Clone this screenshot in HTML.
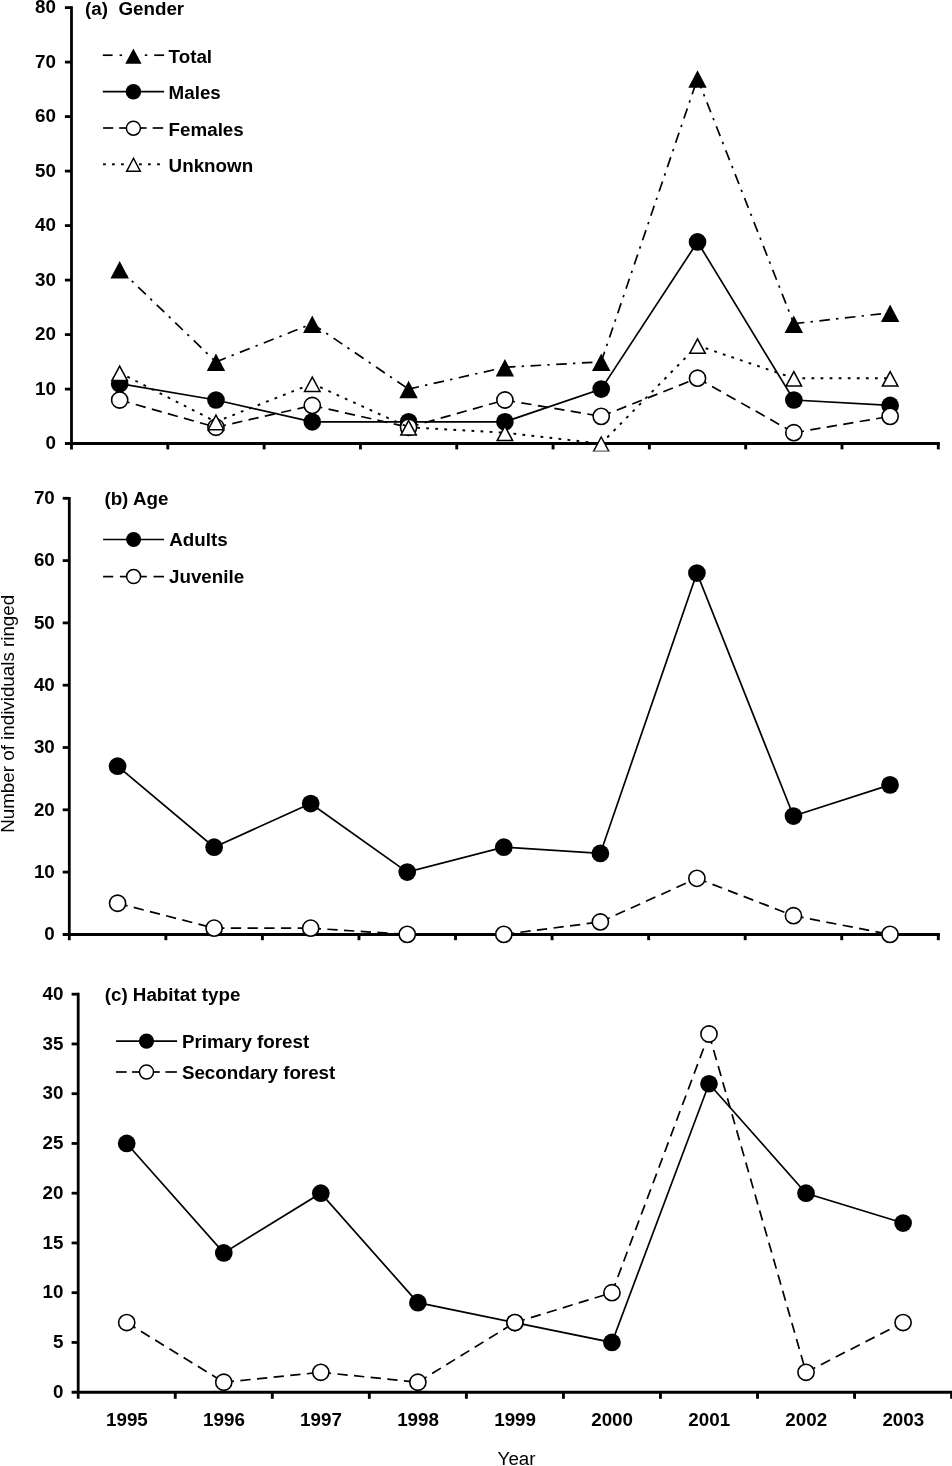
<!DOCTYPE html>
<html><head><meta charset="utf-8"><title>Number of individuals ringed</title>
<style>
html,body{margin:0;padding:0;background:#fff;}
svg{display:block;will-change:transform}
text{font-family:"Liberation Sans",sans-serif;font-size:18.8px;fill:#000}
</style></head><body>
<svg width="952" height="1466" viewBox="0 0 952 1466">
<rect width="952" height="1466" fill="#fff"/>
<g id="panel-a">
<line x1="71.5" y1="6.2" x2="71.5" y2="449.4" stroke="#000" stroke-width="2.8"/>
<line x1="64.9" y1="443.6" x2="939.9" y2="443.6" stroke="#000" stroke-width="3.0"/>
<text x="56" y="449.3" text-anchor="end" font-weight="bold">0</text>
<line x1="64.9" y1="389.1" x2="71.5" y2="389.1" stroke="#000" stroke-width="2.8"/>
<text x="56" y="394.8" text-anchor="end" font-weight="bold">10</text>
<line x1="64.9" y1="334.6" x2="71.5" y2="334.6" stroke="#000" stroke-width="2.8"/>
<text x="56" y="340.3" text-anchor="end" font-weight="bold">20</text>
<line x1="64.9" y1="280.1" x2="71.5" y2="280.1" stroke="#000" stroke-width="2.8"/>
<text x="56" y="285.8" text-anchor="end" font-weight="bold">30</text>
<line x1="64.9" y1="225.6" x2="71.5" y2="225.6" stroke="#000" stroke-width="2.8"/>
<text x="56" y="231.3" text-anchor="end" font-weight="bold">40</text>
<line x1="64.9" y1="171.1" x2="71.5" y2="171.1" stroke="#000" stroke-width="2.8"/>
<text x="56" y="176.8" text-anchor="end" font-weight="bold">50</text>
<line x1="64.9" y1="116.6" x2="71.5" y2="116.6" stroke="#000" stroke-width="2.8"/>
<text x="56" y="122.3" text-anchor="end" font-weight="bold">60</text>
<line x1="64.9" y1="62.1" x2="71.5" y2="62.1" stroke="#000" stroke-width="2.8"/>
<text x="56" y="67.8" text-anchor="end" font-weight="bold">70</text>
<line x1="64.9" y1="7.6" x2="71.5" y2="7.6" stroke="#000" stroke-width="2.8"/>
<text x="56" y="13.3" text-anchor="end" font-weight="bold">80</text>
<line x1="167.81" y1="443.6" x2="167.81" y2="449.4" stroke="#000" stroke-width="2.9"/>
<line x1="264.12" y1="443.6" x2="264.12" y2="449.4" stroke="#000" stroke-width="2.9"/>
<line x1="360.43" y1="443.6" x2="360.43" y2="449.4" stroke="#000" stroke-width="2.9"/>
<line x1="456.74" y1="443.6" x2="456.74" y2="449.4" stroke="#000" stroke-width="2.9"/>
<line x1="553.06" y1="443.6" x2="553.06" y2="449.4" stroke="#000" stroke-width="2.9"/>
<line x1="649.37" y1="443.6" x2="649.37" y2="449.4" stroke="#000" stroke-width="2.9"/>
<line x1="745.68" y1="443.6" x2="745.68" y2="449.4" stroke="#000" stroke-width="2.9"/>
<line x1="841.99" y1="443.6" x2="841.99" y2="449.4" stroke="#000" stroke-width="2.9"/>
<line x1="938.3" y1="443.6" x2="938.3" y2="449.4" stroke="#000" stroke-width="2.9"/>
<text x="85" y="14.9" text-anchor="start" font-weight="bold">(a)&#160;&#160;Gender</text>
<g fill="none" stroke="#000" stroke-width="1.7" stroke-dasharray="10.6 6.2 2.4 6.5" stroke-dashoffset="0">
<line x1="119.66" y1="269.2" x2="215.97" y2="361.85"/>
<line x1="215.97" y1="361.85" x2="312.28" y2="323.7"/>
<line x1="312.28" y1="323.7" x2="408.59" y2="389.1"/>
<line x1="408.59" y1="389.1" x2="504.9" y2="367.3"/>
<line x1="504.9" y1="367.3" x2="601.21" y2="361.85"/>
<line x1="601.21" y1="361.85" x2="697.52" y2="78.45"/>
<line x1="697.52" y1="78.45" x2="793.83" y2="323.7"/>
<line x1="793.83" y1="323.7" x2="890.14" y2="312.8"/>
</g>
<polygon points="119.66,260.9 110.46,278.4 128.86,278.4" fill="#000"/>
<polygon points="215.97,353.55 206.77,371.05 225.17,371.05" fill="#000"/>
<polygon points="312.28,315.4 303.08,332.9 321.48,332.9" fill="#000"/>
<polygon points="408.59,380.8 399.39,398.3 417.79,398.3" fill="#000"/>
<polygon points="504.9,359 495.7,376.5 514.1,376.5" fill="#000"/>
<polygon points="601.21,353.55 592.01,371.05 610.41,371.05" fill="#000"/>
<polygon points="697.52,70.15 688.32,87.65 706.72,87.65" fill="#000"/>
<polygon points="793.83,315.4 784.63,332.9 803.03,332.9" fill="#000"/>
<polygon points="890.14,304.5 880.94,322 899.34,322" fill="#000"/>
<polyline points="119.66,383.65 215.97,400 312.28,421.8 408.59,421.8 504.9,421.8 601.21,389.1 697.52,241.95 793.83,400 890.14,405.45" fill="none" stroke="#000" stroke-width="1.7"/>
<circle cx="119.66" cy="383.65" r="8.85" fill="#000"/>
<circle cx="215.97" cy="400" r="8.85" fill="#000"/>
<circle cx="312.28" cy="421.8" r="8.85" fill="#000"/>
<circle cx="408.59" cy="421.8" r="8.85" fill="#000"/>
<circle cx="504.9" cy="421.8" r="8.85" fill="#000"/>
<circle cx="601.21" cy="389.1" r="8.85" fill="#000"/>
<circle cx="697.52" cy="241.95" r="8.85" fill="#000"/>
<circle cx="793.83" cy="400" r="8.85" fill="#000"/>
<circle cx="890.14" cy="405.45" r="8.85" fill="#000"/>
<g fill="none" stroke="#000" stroke-width="1.7" stroke-dasharray="10.3 6.4" stroke-dashoffset="0">
<line x1="119.66" y1="400" x2="215.97" y2="427.25"/>
<line x1="215.97" y1="427.25" x2="312.28" y2="405.45"/>
<line x1="312.28" y1="405.45" x2="408.59" y2="427.25"/>
<line x1="408.59" y1="427.25" x2="504.9" y2="400"/>
<line x1="504.9" y1="400" x2="601.21" y2="416.35"/>
<line x1="601.21" y1="416.35" x2="697.52" y2="378.2"/>
<line x1="697.52" y1="378.2" x2="793.83" y2="432.7"/>
<line x1="793.83" y1="432.7" x2="890.14" y2="416.35"/>
</g>
<circle cx="119.66" cy="400" r="8.1" fill="#fff" stroke="#000" stroke-width="1.6"/>
<circle cx="215.97" cy="427.25" r="8.1" fill="#fff" stroke="#000" stroke-width="1.6"/>
<circle cx="312.28" cy="405.45" r="8.1" fill="#fff" stroke="#000" stroke-width="1.6"/>
<circle cx="408.59" cy="427.25" r="8.1" fill="#fff" stroke="#000" stroke-width="1.6"/>
<circle cx="504.9" cy="400" r="8.1" fill="#fff" stroke="#000" stroke-width="1.6"/>
<circle cx="601.21" cy="416.35" r="8.1" fill="#fff" stroke="#000" stroke-width="1.6"/>
<circle cx="697.52" cy="378.2" r="8.1" fill="#fff" stroke="#000" stroke-width="1.6"/>
<circle cx="793.83" cy="432.7" r="8.1" fill="#fff" stroke="#000" stroke-width="1.6"/>
<circle cx="890.14" cy="416.35" r="8.1" fill="#fff" stroke="#000" stroke-width="1.6"/>
<g fill="none" stroke="#000" stroke-width="1.9" stroke-dasharray="2.8 6.27" stroke-dashoffset="0.5">
<line x1="119.66" y1="372.75" x2="215.97" y2="421.8"/>
<line x1="215.97" y1="421.8" x2="312.28" y2="383.65"/>
<line x1="312.28" y1="383.65" x2="408.59" y2="427.25"/>
<line x1="408.59" y1="427.25" x2="504.9" y2="432.7"/>
<line x1="504.9" y1="432.7" x2="601.21" y2="443.6"/>
<line x1="601.21" y1="443.6" x2="697.52" y2="345.5"/>
<line x1="697.52" y1="345.5" x2="793.83" y2="378.2"/>
<line x1="793.83" y1="378.2" x2="890.14" y2="378.2"/>
</g>
<polygon points="119.66,366.15 111.91,380.6 127.41,380.6" fill="#fff" stroke="#000" stroke-width="1.5" stroke-linejoin="miter"/>
<polygon points="215.97,415.2 208.22,429.65 223.72,429.65" fill="#fff" stroke="#000" stroke-width="1.5" stroke-linejoin="miter"/>
<polygon points="312.28,377.05 304.53,391.5 320.03,391.5" fill="#fff" stroke="#000" stroke-width="1.5" stroke-linejoin="miter"/>
<polygon points="408.59,420.65 400.84,435.1 416.34,435.1" fill="#fff" stroke="#000" stroke-width="1.5" stroke-linejoin="miter"/>
<polygon points="504.9,426.1 497.15,440.55 512.65,440.55" fill="#fff" stroke="#000" stroke-width="1.5" stroke-linejoin="miter"/>
<polygon points="601.21,437 593.46,451.45 608.96,451.45" fill="#fff" stroke="#000" stroke-width="1.5" stroke-linejoin="miter"/>
<polygon points="697.52,338.9 689.77,353.35 705.27,353.35" fill="#fff" stroke="#000" stroke-width="1.5" stroke-linejoin="miter"/>
<polygon points="793.83,371.6 786.08,386.05 801.58,386.05" fill="#fff" stroke="#000" stroke-width="1.5" stroke-linejoin="miter"/>
<polygon points="890.14,371.6 882.39,386.05 897.89,386.05" fill="#fff" stroke="#000" stroke-width="1.5" stroke-linejoin="miter"/>
<rect x="588" y="451.5" width="28" height="3" fill="#fff"/>
<line x1="592.3" y1="451.2" x2="610.3" y2="451.2" stroke="#999" stroke-width="0.8"/>
<line x1="102.8" y1="55.2" x2="112.6" y2="55.2" stroke="#000" stroke-width="1.7"/>
<line x1="119.6" y1="55.2" x2="122.1" y2="55.2" stroke="#000" stroke-width="1.7"/>
<line x1="144.8" y1="55.2" x2="147.3" y2="55.2" stroke="#000" stroke-width="1.7"/>
<line x1="154.2" y1="55.2" x2="164.1" y2="55.2" stroke="#000" stroke-width="1.7"/>
<polygon points="133.4,48.6 125.25,63.7 141.55,63.7" fill="#000"/>
<text x="168.6" y="62.7" text-anchor="start" font-weight="bold">Total</text>
<line x1="102.8" y1="91.7" x2="164.1" y2="91.7" stroke="#000" stroke-width="1.7"/>
<circle cx="133.4" cy="91.7" r="7.7" fill="#000"/>
<text x="168.6" y="99.2" text-anchor="start" font-weight="bold">Males</text>
<line x1="103.1" y1="128" x2="113.3" y2="128" stroke="#000" stroke-width="1.7"/>
<line x1="119.2" y1="128" x2="127" y2="128" stroke="#000" stroke-width="1.7"/>
<line x1="140" y1="128" x2="146.5" y2="128" stroke="#000" stroke-width="1.7"/>
<line x1="152.7" y1="128" x2="163.2" y2="128" stroke="#000" stroke-width="1.7"/>
<circle cx="133.4" cy="128.2" r="7" fill="#fff" stroke="#000" stroke-width="1.5"/>
<text x="168.6" y="135.5" text-anchor="start" font-weight="bold">Females</text>
<line x1="103" y1="164.3" x2="105.8" y2="164.3" stroke="#000" stroke-width="1.9"/>
<line x1="112" y1="164.3" x2="114.8" y2="164.3" stroke="#000" stroke-width="1.9"/>
<line x1="121" y1="164.3" x2="123.8" y2="164.3" stroke="#000" stroke-width="1.9"/>
<line x1="139" y1="164.3" x2="141.8" y2="164.3" stroke="#000" stroke-width="1.9"/>
<line x1="148" y1="164.3" x2="150.8" y2="164.3" stroke="#000" stroke-width="1.9"/>
<line x1="157.1" y1="164.3" x2="159.9" y2="164.3" stroke="#000" stroke-width="1.9"/>
<polygon points="133.5,158.25 126.7,171.25 140.3,171.25" fill="#fff" stroke="#000" stroke-width="1.5" stroke-linejoin="miter"/>
<text x="168.6" y="171.8" text-anchor="start" font-weight="bold">Unknown</text>
</g>
<g id="panel-b">
<line x1="69.3" y1="496.9" x2="69.3" y2="940.2" stroke="#000" stroke-width="2.8"/>
<line x1="62.7" y1="934.4" x2="939.9" y2="934.4" stroke="#000" stroke-width="3.0"/>
<text x="54.8" y="940.1" text-anchor="end" font-weight="bold">0</text>
<line x1="62.7" y1="872.1" x2="69.3" y2="872.1" stroke="#000" stroke-width="2.8"/>
<text x="54.8" y="877.8" text-anchor="end" font-weight="bold">10</text>
<line x1="62.7" y1="809.8" x2="69.3" y2="809.8" stroke="#000" stroke-width="2.8"/>
<text x="54.8" y="815.5" text-anchor="end" font-weight="bold">20</text>
<line x1="62.7" y1="747.5" x2="69.3" y2="747.5" stroke="#000" stroke-width="2.8"/>
<text x="54.8" y="753.2" text-anchor="end" font-weight="bold">30</text>
<line x1="62.7" y1="685.2" x2="69.3" y2="685.2" stroke="#000" stroke-width="2.8"/>
<text x="54.8" y="690.9" text-anchor="end" font-weight="bold">40</text>
<line x1="62.7" y1="622.9" x2="69.3" y2="622.9" stroke="#000" stroke-width="2.8"/>
<text x="54.8" y="628.6" text-anchor="end" font-weight="bold">50</text>
<line x1="62.7" y1="560.6" x2="69.3" y2="560.6" stroke="#000" stroke-width="2.8"/>
<text x="54.8" y="566.3" text-anchor="end" font-weight="bold">60</text>
<line x1="62.7" y1="498.3" x2="69.3" y2="498.3" stroke="#000" stroke-width="2.8"/>
<text x="54.8" y="504" text-anchor="end" font-weight="bold">70</text>
<line x1="165.86" y1="934.4" x2="165.86" y2="940.2" stroke="#000" stroke-width="2.9"/>
<line x1="262.41" y1="934.4" x2="262.41" y2="940.2" stroke="#000" stroke-width="2.9"/>
<line x1="358.97" y1="934.4" x2="358.97" y2="940.2" stroke="#000" stroke-width="2.9"/>
<line x1="455.52" y1="934.4" x2="455.52" y2="940.2" stroke="#000" stroke-width="2.9"/>
<line x1="552.08" y1="934.4" x2="552.08" y2="940.2" stroke="#000" stroke-width="2.9"/>
<line x1="648.63" y1="934.4" x2="648.63" y2="940.2" stroke="#000" stroke-width="2.9"/>
<line x1="745.19" y1="934.4" x2="745.19" y2="940.2" stroke="#000" stroke-width="2.9"/>
<line x1="841.74" y1="934.4" x2="841.74" y2="940.2" stroke="#000" stroke-width="2.9"/>
<line x1="938.3" y1="934.4" x2="938.3" y2="940.2" stroke="#000" stroke-width="2.9"/>
<text x="104.4" y="505.2" text-anchor="start" font-weight="bold">(b) Age</text>
<polyline points="117.58,766.19 214.13,847.18 310.69,803.57 407.24,872.1 503.8,847.18 600.36,853.41 696.91,573.06 793.47,816.03 890.02,784.88" fill="none" stroke="#000" stroke-width="1.7"/>
<circle cx="117.58" cy="766.19" r="8.85" fill="#000"/>
<circle cx="214.13" cy="847.18" r="8.85" fill="#000"/>
<circle cx="310.69" cy="803.57" r="8.85" fill="#000"/>
<circle cx="407.24" cy="872.1" r="8.85" fill="#000"/>
<circle cx="503.8" cy="847.18" r="8.85" fill="#000"/>
<circle cx="600.36" cy="853.41" r="8.85" fill="#000"/>
<circle cx="696.91" cy="573.06" r="8.85" fill="#000"/>
<circle cx="793.47" cy="816.03" r="8.85" fill="#000"/>
<circle cx="890.02" cy="784.88" r="8.85" fill="#000"/>
<g fill="none" stroke="#000" stroke-width="1.7" stroke-dasharray="10.3 6.4" stroke-dashoffset="0">
<line x1="117.58" y1="903.25" x2="214.13" y2="928.17"/>
<line x1="214.13" y1="928.17" x2="310.69" y2="928.17"/>
<line x1="310.69" y1="928.17" x2="407.24" y2="934.4"/>
<line x1="407.24" y1="934.4" x2="503.8" y2="934.4"/>
<line x1="503.8" y1="934.4" x2="600.36" y2="921.94"/>
<line x1="600.36" y1="921.94" x2="696.91" y2="878.33"/>
<line x1="696.91" y1="878.33" x2="793.47" y2="915.71"/>
<line x1="793.47" y1="915.71" x2="890.02" y2="934.4"/>
</g>
<circle cx="117.58" cy="903.25" r="8.1" fill="#fff" stroke="#000" stroke-width="1.6"/>
<circle cx="214.13" cy="928.17" r="8.1" fill="#fff" stroke="#000" stroke-width="1.6"/>
<circle cx="310.69" cy="928.17" r="8.1" fill="#fff" stroke="#000" stroke-width="1.6"/>
<circle cx="407.24" cy="934.4" r="8.1" fill="#fff" stroke="#000" stroke-width="1.6"/>
<circle cx="503.8" cy="934.4" r="8.1" fill="#fff" stroke="#000" stroke-width="1.6"/>
<circle cx="600.36" cy="921.94" r="8.1" fill="#fff" stroke="#000" stroke-width="1.6"/>
<circle cx="696.91" cy="878.33" r="8.1" fill="#fff" stroke="#000" stroke-width="1.6"/>
<circle cx="793.47" cy="915.71" r="8.1" fill="#fff" stroke="#000" stroke-width="1.6"/>
<circle cx="890.02" cy="934.4" r="8.1" fill="#fff" stroke="#000" stroke-width="1.6"/>
<line x1="103.1" y1="539.5" x2="164" y2="539.5" stroke="#000" stroke-width="1.7"/>
<circle cx="133.6" cy="539.5" r="7.5" fill="#000"/>
<text x="169.2" y="546" text-anchor="start" font-weight="bold">Adults</text>
<line x1="103.1" y1="576.6" x2="113.2" y2="576.6" stroke="#000" stroke-width="1.7"/>
<line x1="119.9" y1="576.6" x2="127" y2="576.6" stroke="#000" stroke-width="1.7"/>
<line x1="140.3" y1="576.6" x2="146.8" y2="576.6" stroke="#000" stroke-width="1.7"/>
<line x1="153.5" y1="576.6" x2="164" y2="576.6" stroke="#000" stroke-width="1.7"/>
<circle cx="133.6" cy="576.6" r="7" fill="#fff" stroke="#000" stroke-width="1.5"/>
<text x="169" y="583.1" text-anchor="start" font-weight="bold">Juvenile</text>
</g>
<g id="panel-c">
<line x1="78.2" y1="992.8" x2="78.2" y2="1398.8" stroke="#000" stroke-width="2.8"/>
<line x1="71.6" y1="1392.2" x2="953.2" y2="1392.2" stroke="#000" stroke-width="3.0"/>
<text x="63.4" y="1397.9" text-anchor="end" font-weight="bold">0</text>
<line x1="71.6" y1="1342.45" x2="78.2" y2="1342.45" stroke="#000" stroke-width="2.8"/>
<text x="63.4" y="1348.15" text-anchor="end" font-weight="bold">5</text>
<line x1="71.6" y1="1292.7" x2="78.2" y2="1292.7" stroke="#000" stroke-width="2.8"/>
<text x="63.4" y="1298.4" text-anchor="end" font-weight="bold">10</text>
<line x1="71.6" y1="1242.95" x2="78.2" y2="1242.95" stroke="#000" stroke-width="2.8"/>
<text x="63.4" y="1248.65" text-anchor="end" font-weight="bold">15</text>
<line x1="71.6" y1="1193.2" x2="78.2" y2="1193.2" stroke="#000" stroke-width="2.8"/>
<text x="63.4" y="1198.9" text-anchor="end" font-weight="bold">20</text>
<line x1="71.6" y1="1143.45" x2="78.2" y2="1143.45" stroke="#000" stroke-width="2.8"/>
<text x="63.4" y="1149.15" text-anchor="end" font-weight="bold">25</text>
<line x1="71.6" y1="1093.7" x2="78.2" y2="1093.7" stroke="#000" stroke-width="2.8"/>
<text x="63.4" y="1099.4" text-anchor="end" font-weight="bold">30</text>
<line x1="71.6" y1="1043.95" x2="78.2" y2="1043.95" stroke="#000" stroke-width="2.8"/>
<text x="63.4" y="1049.65" text-anchor="end" font-weight="bold">35</text>
<line x1="71.6" y1="994.2" x2="78.2" y2="994.2" stroke="#000" stroke-width="2.8"/>
<text x="63.4" y="999.9" text-anchor="end" font-weight="bold">40</text>
<line x1="175.24" y1="1392.2" x2="175.24" y2="1398.8" stroke="#000" stroke-width="2.9"/>
<line x1="272.29" y1="1392.2" x2="272.29" y2="1398.8" stroke="#000" stroke-width="2.9"/>
<line x1="369.33" y1="1392.2" x2="369.33" y2="1398.8" stroke="#000" stroke-width="2.9"/>
<line x1="466.38" y1="1392.2" x2="466.38" y2="1398.8" stroke="#000" stroke-width="2.9"/>
<line x1="563.42" y1="1392.2" x2="563.42" y2="1398.8" stroke="#000" stroke-width="2.9"/>
<line x1="660.47" y1="1392.2" x2="660.47" y2="1398.8" stroke="#000" stroke-width="2.9"/>
<line x1="757.51" y1="1392.2" x2="757.51" y2="1398.8" stroke="#000" stroke-width="2.9"/>
<line x1="854.56" y1="1392.2" x2="854.56" y2="1398.8" stroke="#000" stroke-width="2.9"/>
<line x1="951.6" y1="1392.2" x2="951.6" y2="1398.8" stroke="#000" stroke-width="2.9"/>
<text x="104.7" y="1000.7" text-anchor="start" font-weight="bold">(c) Habitat type</text>
<polyline points="126.72,1143.45 223.77,1252.9 320.81,1193.2 417.86,1302.65 514.9,1322.55 611.94,1342.45 708.99,1083.75 806.03,1193.2 903.08,1223.05" fill="none" stroke="#000" stroke-width="1.7"/>
<circle cx="126.72" cy="1143.45" r="8.85" fill="#000"/>
<circle cx="223.77" cy="1252.9" r="8.85" fill="#000"/>
<circle cx="320.81" cy="1193.2" r="8.85" fill="#000"/>
<circle cx="417.86" cy="1302.65" r="8.85" fill="#000"/>
<circle cx="514.9" cy="1322.55" r="8.85" fill="#000"/>
<circle cx="611.94" cy="1342.45" r="8.85" fill="#000"/>
<circle cx="708.99" cy="1083.75" r="8.85" fill="#000"/>
<circle cx="806.03" cy="1193.2" r="8.85" fill="#000"/>
<circle cx="903.08" cy="1223.05" r="8.85" fill="#000"/>
<g fill="none" stroke="#000" stroke-width="1.7" stroke-dasharray="10.3 6.4" stroke-dashoffset="0">
<line x1="126.72" y1="1322.55" x2="223.77" y2="1382.25"/>
<line x1="223.77" y1="1382.25" x2="320.81" y2="1372.3"/>
<line x1="320.81" y1="1372.3" x2="417.86" y2="1382.25"/>
<line x1="417.86" y1="1382.25" x2="514.9" y2="1322.55"/>
<line x1="514.9" y1="1322.55" x2="611.94" y2="1292.7"/>
<line x1="611.94" y1="1292.7" x2="708.99" y2="1034"/>
<line x1="708.99" y1="1034" x2="806.03" y2="1372.3"/>
<line x1="806.03" y1="1372.3" x2="903.08" y2="1322.55"/>
</g>
<circle cx="126.72" cy="1322.55" r="8.1" fill="#fff" stroke="#000" stroke-width="1.6"/>
<circle cx="223.77" cy="1382.25" r="8.1" fill="#fff" stroke="#000" stroke-width="1.6"/>
<circle cx="320.81" cy="1372.3" r="8.1" fill="#fff" stroke="#000" stroke-width="1.6"/>
<circle cx="417.86" cy="1382.25" r="8.1" fill="#fff" stroke="#000" stroke-width="1.6"/>
<circle cx="514.9" cy="1322.55" r="8.1" fill="#fff" stroke="#000" stroke-width="1.6"/>
<circle cx="611.94" cy="1292.7" r="8.1" fill="#fff" stroke="#000" stroke-width="1.6"/>
<circle cx="708.99" cy="1034" r="8.1" fill="#fff" stroke="#000" stroke-width="1.6"/>
<circle cx="806.03" cy="1372.3" r="8.1" fill="#fff" stroke="#000" stroke-width="1.6"/>
<circle cx="903.08" cy="1322.55" r="8.1" fill="#fff" stroke="#000" stroke-width="1.6"/>
<text x="126.92" y="1426.4" text-anchor="middle" font-weight="bold">1995</text>
<text x="223.97" y="1426.4" text-anchor="middle" font-weight="bold">1996</text>
<text x="321.01" y="1426.4" text-anchor="middle" font-weight="bold">1997</text>
<text x="418.06" y="1426.4" text-anchor="middle" font-weight="bold">1998</text>
<text x="515.1" y="1426.4" text-anchor="middle" font-weight="bold">1999</text>
<text x="612.14" y="1426.4" text-anchor="middle" font-weight="bold">2000</text>
<text x="709.19" y="1426.4" text-anchor="middle" font-weight="bold">2001</text>
<text x="806.23" y="1426.4" text-anchor="middle" font-weight="bold">2002</text>
<text x="903.28" y="1426.4" text-anchor="middle" font-weight="bold">2003</text>
<line x1="116.1" y1="1041.1" x2="177.1" y2="1041.1" stroke="#000" stroke-width="1.7"/>
<circle cx="146.5" cy="1041.1" r="7.6" fill="#000"/>
<text x="181.9" y="1048" text-anchor="start" font-weight="bold">Primary forest</text>
<line x1="116.1" y1="1072" x2="126.7" y2="1072" stroke="#000" stroke-width="1.7"/>
<line x1="132.1" y1="1072" x2="140" y2="1072" stroke="#000" stroke-width="1.7"/>
<line x1="153.2" y1="1072" x2="159.8" y2="1072" stroke="#000" stroke-width="1.7"/>
<line x1="165.5" y1="1072" x2="176.9" y2="1072" stroke="#000" stroke-width="1.7"/>
<circle cx="146.5" cy="1072" r="7" fill="#fff" stroke="#000" stroke-width="1.5"/>
<text x="181.9" y="1078.9" text-anchor="start" font-weight="bold">Secondary forest</text>
</g>
<text x="516.6" y="1465.2" text-anchor="middle" font-weight="normal">Year</text>
<text transform="translate(14.4,713.8) rotate(-90)" text-anchor="middle" font-weight="normal">Number of individuals ringed</text>
</svg></body></html>
